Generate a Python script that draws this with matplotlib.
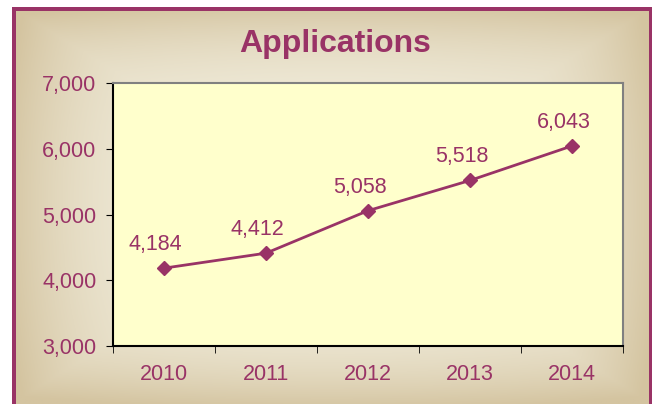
import numpy as np
import matplotlib.pyplot as plt
from matplotlib.patches import Rectangle

years = ['2010', '2011', '2012', '2013', '2014']
applications = [4184, 4412, 5058, 5518, 6043]
y_ticks = [3000, 4000, 5000, 6000, 7000]

plum = '#993366'
W, H = 654, 404

plt.rcParams['font.family'] = ['Liberation Sans', 'DejaVu Sans']

fig = plt.figure(figsize=(W / 100, H / 100), dpi=100)
fig.patch.set_facecolor('white')

# beige frame with light centre
x0, y0, x1, y1 = 12, 7, 652, 404
bg = fig.add_axes([x0 / W, 1 - y1 / H, (x1 - x0) / W, (y1 - y0) / H])
gx, gy = np.meshgrid(np.linspace(-1, 1, 300), np.linspace(-1, 1, 200))
r = np.clip(np.maximum(np.abs(gx) ** 4, np.abs(gy) ** 4) * 0.7 + (gx ** 2 + gy ** 2) * 0.2, 0, 1)
light = np.array([242, 238, 222]) / 255
dark = np.array([212, 196, 160]) / 255
img = light[None, None, :] * (1 - r[..., None]) + dark[None, None, :] * r[..., None]
bg.imshow(img, aspect='auto', extent=[0, 1, 0, 1])
bg.set_xlim(0, 1)
bg.set_ylim(0, 1)
bg.axis('off')
fig.patches.append(Rectangle((x0 / W, 0), 4 / W, 1 - y0 / H, transform=fig.transFigure,
                             facecolor=plum, edgecolor='none', zorder=5))
fig.patches.append(Rectangle((x0 / W, 1 - (y0 + 4) / H), (x1 - x0) / W, 4 / H,
                             transform=fig.transFigure, facecolor=plum, edgecolor='none', zorder=5))
fig.patches.append(Rectangle(((x1 - 3) / W, 0), 3 / W, 1 - y0 / H, transform=fig.transFigure,
                             facecolor=plum, edgecolor='none', zorder=5))

left, right, top, bottom = 113, 623, 83, 346
ax = fig.add_axes([left / W, 1 - bottom / H, (right - left) / W, (bottom - top) / H])
ax.set_facecolor('#FFFFCC')

x = np.arange(1, len(years) + 1)
ax.plot(x, applications, color=plum, lw=2, marker='D', markersize=7)
for xi, v in zip(x, applications):
    ax.annotate(f'{v:,}', (xi, v), xytext=(-6, 17), textcoords='offset points',
                ha='center', va='center', color=plum, fontsize=15.5)

ax.set_xlim(0.5, len(years) + 0.5)
ax.set_ylim(3000, 7000)
ax.set_yticks(y_ticks)
ax.set_yticklabels([f'{t:,}' for t in y_ticks])
ax.set_xticks(x)
ax.set_xticklabels(years)
ax.set_xticks(np.arange(0.5, len(years) + 1), minor=True)
ax.tick_params(axis='x', which='major', length=0, pad=13, labelcolor=plum, labelsize=15.5)
ax.tick_params(axis='x', which='minor', length=5, direction='out', color='black')
ax.tick_params(axis='y', length=5, direction='out', color='black', labelcolor=plum,
               labelsize=15.5, pad=7)

ax.spines['left'].set_color('black')
ax.spines['bottom'].set_color('black')
ax.spines['top'].set_color('#808080')
ax.spines['right'].set_color('#808080')
for s in ax.spines.values():
    s.set_linewidth(1.5)

fig.text(335 / W, 1 - 44 / H, 'Applications', ha='center', va='center',
         fontsize=23, fontweight='bold', color=plum)

fig.savefig('out.png', dpi=100)
